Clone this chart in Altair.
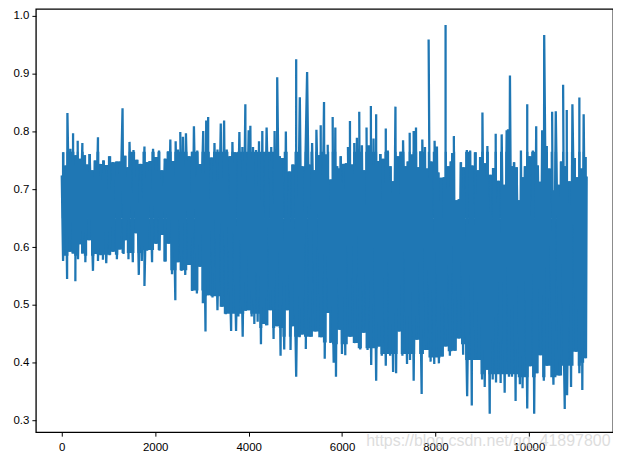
import altair as alt
import pandas as pd

hi_x = [0,28,85,121,185,242,298,341,384,441,497,540,597,654,711,775,832,895,952,1023,1094,1180,1237,1301,1357,1414,1450,1535,1606,1684,1770,1827,1883,1954,2018,2082,2139,2217,2274,2324,2381,2438,2487,2537,2594,2658,2722,2800,2829,2900,2956,3028,3092,3134,3205,3269,3333,3404,3475,3532,3603,3653,3710,3802,3866,3930,4001,4037,4094,4158,4222,4293,4385,4484,4556,4612,4669,4705,4797,4875,4946,5018,5096,5145,5252,
5288,5359,5401,5451,5501,5543,5614,5664,5693,5757,5799,5856,5899,5927,5970,6027,6084,6126,6169,6211,6261,6318,6368,6425,6467,6524,6574,6617,6674,6730,6773,6816,6880,6936,6979,7036,7093,7143,7192,7256,7306,7363,7405,7448,7491,7533,7583,7633,7675,7718,7775,7818,7853,7903,7981,8031,8059,8116,8180,8216,8273,8329,8358,8393,8450,8500,8542,8599,8671,8742,8784,8855,8912,8955,9005,9054,9111,9175,9239,9289,9346,9417,9466,9523,9552,9594,9637,9680,9737,9793,9829,9871,9914,9964,10014,10085,10156,10191,10234,10284,10327,10383,10433,10497,10525,10575,10632,10689,10732,10774,10810,10867,10931,10980,11030,11080,11129,11172,11215,11236]
hi_y = [.724,.764,.741,.832,.770,.797,.759,.784,.753,.780,.759,.743,.761,.733,.750,.790,.744,.750,.742,.757,.747,.748,.748,.840,.758,.738,.782,.768,.751,.744,.774,.747,.749,.770,.756,.767,.733,.753,.766,.786,.749,.783,.769,.799,.791,.797,.757,.765,.809,.767,.744,.801,.819,.825,.755,.780,.769,.814,.819,.769,.757,.782,.764,.799,.773,.847,.802,.810,.773,.768,.783,.801,.807,.773,.801,.894,.757,.754,.800,.731,.743,.925,.859,.740,.903,
.743,.780,.733,.803,.759,.811,.851,.760,.777,.717,.825,.807,.740,.736,.757,.744,.745,.773,.818,.743,.780,.789,.834,.776,.733,.807,.776,.844,.788,.830,.749,.761,.753,.805,.767,.740,.714,.843,.757,.765,.785,.740,.748,.798,.760,.801,.807,.738,.766,.786,.773,.736,.959,.748,.784,.774,.729,.720,.721,.984,.740,.748,.763,.792,.681,.683,.747,.738,.768,.767,.741,.764,.733,.756,.833,.745,.775,.725,.737,.796,.715,.795,.708,.802,.804,.897,.740,.747,.738,.681,.767,.721,.740,.847,.757,.767,.809,.741,.713,.802,.967,.775,.736,.834,.698,.835,.708,.748,.881,.740,.837,.714,.847,.754,.721,.859,.736,.830,.756,.722]

lo_x = [28,114,171,242,291,348,384,441,505,583,668,725,775,832,881,952,1023,1094,1180,1237,1322,1357,1428,1521,1592,1649,1713,1770,1827,1933,2018,2089,2139,2210,2288,2360,2431,2480,2566,2644,2729,2793,2893,2956,3020,3077,3134,3227,3333,3426,3511,3625,3731,3781,3873,3937,4008,4065,4122,4193,4264,4321,4378,4470,4534,4605,4684,4762,4826,4897,4932,5018,5089,5145,5224,
5323,5430,5551,5629,5714,5750,5821,5870,5949,5998,6069,6176,6283,6389,6460,6546,6624,6730,6794,6851,6936,7029,7093,7157,7221,7292,7391,7455,7533,7597,7704,7803,7896,7974,8073,8145,8216,8308,8415,8500,8592,8678,8777,8862,8933,8997,9054,9104,9161,9225,9296,9395,9481,9573,9637,9715,9807,9864,9964,10021,10113,10170,10248,10319,10390,10525,10653,10767,10817,10902,11009,11080,11143,11222]
lo_y = [.576,.545,.592,.589,.541,.579,.605,.589,.574,.612,.559,.588,.576,.586,.578,.572,.586,.592,.579,.596,.588,.612,.579,.574,.624,.552,.576,.533,.594,.574,.606,.594,.621,.575,.606,.553,.508,.574,.559,.552,.569,.524,.520,.566,.503,.454,.517,.513,.491,.497,.484,.455,.455,.480,.445,.490,.491,.480,.467,.471,.432,.467,.465,.491,.441,.463,.412,.423,.491,.422,.463,.376,.444,.449,.424,
.445,.454,.444,.407,.486,.434,.400,.376,.457,.415,.413,.445,.434,.423,.452,.422,.396,.369,.428,.412,.395,.412,.384,.382,.454,.412,.398,.405,.369,.440,.346,.422,.402,.398,.399,.411,.428,.412,.421,.442,.414,.342,.326,.405,.405,.371,.358,.388,.312,.371,.366,.365,.348,.376,.376,.334,.363,.356,.321,.394,.312,.382,.413,.369,.395,.362,.378,.320,.344,.358,.419,.382,.353,.408]

# Lowest level the dense part of the trace keeps reaching, read along x.
floor_x = [0,400,1000,1500,2000,2400,2900,3200,3600,4000,4500,5000,5500,6000,6500,7000,7500,8000,8400,8500,8700,9000,9500,10000,10500,11000,11236]
floor_y = [.585,.585,.587,.590,.595,.560,.525,.515,.485,.485,.460,.445,.435,.432,.425,.415,.415,.409,.420,.432,.405,.380,.380,.375,.375,.395,.400]
ceiling = 0.765
centre = 0.65

x_ticks = [0, 2000, 4000, 6000, 8000, 10000]
y_ticks = [0.3, 0.4, 0.5, 0.6, 0.7, 0.8, 0.9, 1.0]
watermark = "https://blog.csdn.net/qq_41897800"

# Walk peaks and troughs in x order so the trace keeps swinging between them,
# returning to the nearest reading of the other kind where two of a kind follow each other.
hi_pts = list(zip(hi_x, hi_y))
lo_pts = list(zip(lo_x, lo_y))
merged = sorted([(p[0], p[1], "h") for p in hi_pts] + [(p[0], p[1], "l") for p in lo_pts], key=lambda p: p[0])
xs, ys = [], []
last = None
for x, y, kind in merged:
    if kind == last:
        other = lo_pts if kind == "h" else hi_pts
        ox, oy = min(other, key=lambda p: abs(p[0] - x))
        xs.append(ox)
        ys.append(oy)
    xs.append(x)
    ys.append(y)
    last = kind

df = pd.DataFrame({"i": range(len(xs)), "x": xs, "y": ys})


def floor_at(x):
    j = min(range(len(floor_x)), key=lambda k: abs(floor_x[k] - x))
    return floor_y[j]


upper = pd.DataFrame({"x": hi_x, "edge": [min(v, ceiling) for v in hi_y], "mid": centre})
lower = pd.DataFrame({"x": lo_x, "edge": [max(v, floor_at(x)) for x, v in zip(lo_x, lo_y)], "mid": centre})

font = "Liberation Sans"
x_scale = alt.Scale(domain=[-554, 11800], nice=False, zero=False)
y_scale = alt.Scale(domain=[0.28, 1.012], nice=False, zero=False)
line = (
    alt.Chart(df)
    .mark_line(color="#1f77b4", strokeWidth=2.3, strokeJoin="bevel", clip=True)
    .encode(
        x=alt.X("x:Q", scale=x_scale,
                axis=alt.Axis(values=x_ticks, title=None, grid=False, domain=False, format="d",
                              tickColor="black", tickSize=4, labelColor="black", labelFont=font,
                              labelFontSize=11.5, labelPadding=5, labelFlush=False)),
        y=alt.Y("y:Q", scale=y_scale,
                axis=alt.Axis(values=y_ticks, title=None, grid=False, domain=False, format=".1f",
                              tickColor="black", tickSize=4, labelColor="black", labelFont=font,
                              labelFontSize=11.5, labelPadding=3)),
        order="i:Q",
    )
)


def dense_part(frame):
    return (
        alt.Chart(frame)
        .mark_area(color="#1f77b4", opacity=1, clip=True, interpolate="step")
        .encode(x=alt.X("x:Q", scale=x_scale), y=alt.Y("edge:Q", scale=y_scale), y2="mid:Q")
    )


mark_text = (
    alt.Chart(pd.DataFrame({"t": [watermark]}))
    .mark_text(font=font, fontSize=16, color="#c8c8c8", opacity=0.6, align="right", baseline="middle", clip=False)
    .encode(text="t:N", x=alt.value(577), y=alt.value(434))
)
chart = (
    alt.layer(dense_part(upper), dense_part(lower), line, mark_text)
    .properties(
        width=579.5,
        height=425,
        padding={"left": 28, "top": 0, "right": 0, "bottom": 20},
        autosize=alt.AutoSizeParams(type="none"),
    )
    .configure_view(stroke="black", strokeWidth=1.3)
)
chart.save("out.html", embed_options={"renderer": "svg", "actions": False})
